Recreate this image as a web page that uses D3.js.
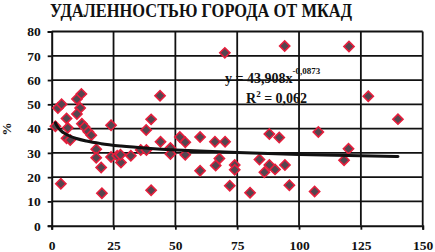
<!DOCTYPE html>
<html>
<head>
<meta charset="utf-8">
<script src="https://cdn.jsdelivr.net/npm/d3@7"></script>
<style>
  body { margin: 0; background: #fff; }
</style>
</head>
<body>
<div id="chartArea"></div>
<script>
const w = 435;
const h = 252;
const margin = {top: 31.5, right: 12.3, bottom: 26.3, left: 51.7};
const serif = "'Liberation Serif', 'Times New Roman', serif";

const title = "УДАЛЕННОСТЬЮ ГОРОДА ОТ МКАД";
const xTicks = [0, 25, 50, 75, 100, 125, 150];
const yTicks = [0, 10, 20, 30, 40, 50, 60, 70, 80];

// distance from MKAD, km
const distKm = [1.5, 2.5, 4, 3.7, 6, 6.5, 6, 7.5, 10.2, 12, 11.5, 10.2, 12.2, 13.3, 14.8, 16,
  18, 18, 20, 20.3, 24, 24, 26.5, 28, 27.8, 32, 36, 38.3, 38.2, 40.2, 40.2, 43.8, 44, 48, 48,
  51.8, 54, 54, 60, 60, 66, 66.3, 67.8, 70.1, 70, 72, 74, 74, 80.2, 84, 86, 88, 90.3, 94.3,
  88, 92, 94.2, 96.1, 106.3, 107.8, 118.2, 120, 120.2, 128, 140];
// share, %
const pct = [41, 48.5, 50, 17.3, 44.2, 40.3, 36, 35.3, 52.2, 54.3, 48.5, 46, 42, 40.7, 38.7, 37.3,
  31.5, 28, 24, 13.4, 41.4, 28.3, 28.8, 26, 29.2, 28.8, 31.2, 31.2, 39.4, 43.8, 14.6, 53.5, 34.6, 32, 29.5,
  36.5, 34.4, 29.2, 36.5, 22.6, 34.6, 24.8, 27.7, 34.6, 71.2, 16.5, 25, 23, 13.6, 27.3, 22, 25, 23.2, 25,
  37.8, 36.3, 74, 16.7, 14.1, 38.6, 27, 31.7, 73.8, 53.3, 43.9];

// power trend y = a * x^b
const trendA = 43.908;
const trendB = -0.0873;
const trendX = [1.5, 2, 3, 4, 5, 7, 10, 14, 20, 28, 40, 55, 75, 100, 120, 140];

const svg = d3.select("#chartArea")
    .append("svg")
    .attr("width", w)
    .attr("height", h)
    .style("font-family", serif)
    .style("font-weight", "bold");

const x = d3.scaleLinear()
    .domain([0, 150])
    .range([margin.left, w - margin.right]);

const y = d3.scaleLinear()
    .domain([0, 80])
    .range([h - margin.bottom, margin.top]);

// grid
svg.append("g")
    .selectAll("line")
    .data(yTicks.slice(1))
    .enter()
    .append("line")
    .attr("x1", x(0))
    .attr("x2", x(150))
    .attr("y1", d => y(d))
    .attr("y2", d => y(d))
    .attr("stroke", "#111")
    .attr("stroke-width", 1.8);

svg.append("g")
    .selectAll("line")
    .data(xTicks.slice(1))
    .enter()
    .append("line")
    .attr("x1", d => x(d))
    .attr("x2", d => x(d))
    .attr("y1", y(0))
    .attr("y2", y(80))
    .attr("stroke", "#111")
    .attr("stroke-width", 1.8);

const yAxis = d3.axisLeft(y)
    .tickValues(yTicks)
    .tickSize(4)
    .tickPadding(7);

const xAxis = d3.axisBottom(x)
    .tickValues(xTicks)
    .tickSize(4)
    .tickPadding(11);

const gy = svg.append("g")
    .attr("transform", `translate(${margin.left},0)`)
    .call(yAxis);

const gx = svg.append("g")
    .attr("transform", `translate(0,${h - margin.bottom})`)
    .call(xAxis);

[gx, gy].forEach(g => {
    g.attr("font-family", serif).attr("font-size", 13.5);
    g.select(".domain").attr("stroke", "#111").attr("stroke-width", 2);
    g.selectAll(".tick line").attr("stroke", "#111").attr("stroke-width", 1.8);
    g.selectAll("text")
        .attr("fill", "#111")
        .attr("font-weight", "bold");
});

svg.append("text")
    .attr("transform", "translate(11,129) rotate(-90)")
    .attr("text-anchor", "middle")
    .attr("font-size", 13)
    .attr("fill", "#111")
    .text("%");

svg.append("text")
    .attr("x", 50)
    .attr("y", 17)
    .attr("font-size", 19)
    .attr("textLength", 302)
    .attr("lengthAdjust", "spacingAndGlyphs")
    .attr("fill", "#111")
    .text(title);

// points
const pts = distKm.map((d, i) => [d, pct[i]]);
const diamond = d3.symbol().type(d3.symbolSquare).size(52);

svg.append("g")
    .selectAll("path")
    .data(pts)
    .enter()
    .append("path")
    .attr("d", diamond)
    .attr("transform", d => `translate(${x(d[0])},${y(d[1])}) rotate(45)`)
    .attr("fill", "#54464f")
    .attr("stroke", "#e61e3c")
    .attr("stroke-width", 1.6);

// trend line
const line = d3.line()
    .x(d => x(d))
    .y(d => y(trendA * Math.pow(d, trendB)))
    .curve(d3.curveMonotoneX);

svg.append("path")
    .datum(trendX)
    .attr("d", line)
    .attr("fill", "none")
    .attr("stroke", "#111")
    .attr("stroke-width", 3)
    .attr("stroke-linecap", "round");

// equation
const eq = svg.append("text")
    .attr("x", 225)
    .attr("y", 83)
    .attr("font-size", 14)
    .attr("fill", "#111");
eq.append("tspan").text("y = 43,908x");
eq.append("tspan")
    .attr("font-size", 9)
    .attr("dy", -9)
    .text("-0,0873");

const r2 = svg.append("text")
    .attr("x", 246)
    .attr("y", 103)
    .attr("font-size", 14)
    .attr("fill", "#111");
r2.append("tspan").text("R");
r2.append("tspan").attr("font-size", 9).attr("dy", -6).text("2");
r2.append("tspan").attr("dy", 6).text(" = 0,062");
</script>
</body>
</html>
